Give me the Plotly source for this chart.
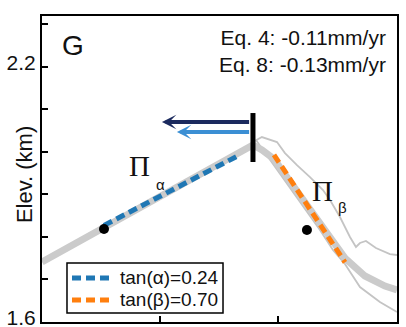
import plotly.graph_objects as go

# Elevation profile across the ridge (horizontal distance in km, elevation in km)
profile_x = [0.0, 0.0915, 0.1678, 0.244, 0.3152, 0.549, 0.803, 0.9964, 1.0727,
             1.1185, 1.1795, 1.3625, 1.5404, 1.642, 1.7438, 1.805]
profile_y = [1.7409, 1.7644, 1.7809, 1.7996, 1.8184, 1.8795, 1.9453, 1.997, 2.0158,
             2.004, 1.9829, 1.865, 1.7503, 1.7081, 1.6845, 1.6751]

# Swath envelope on the steep flank
upper_x = [1.0727, 1.118, 1.1947, 1.2354, 1.2964, 1.3625, 1.4286, 1.4643, 1.515,
           1.5658, 1.5964, 1.6167, 1.647, 1.6978, 1.769, 1.805]
upper_y = [2.0228, 2.0346, 2.0228, 1.9970, 1.9688, 1.9406, 1.9100, 1.8866, 1.8467,
           1.7997, 1.7762, 1.7856, 1.7903, 1.7738, 1.7597, 1.7574]
lower_x = [1.0879, 1.1592, 1.2456, 1.3269, 1.4133, 1.4794, 1.5404, 1.6167, 1.718, 1.805]
lower_y = [2.0275, 1.9805, 1.9265, 1.8702, 1.8161, 1.7691, 1.7362, 1.6822, 1.6470, 1.6235]

# Fitted hillslope gradients
tan_alpha = 0.24
tan_beta = 0.70
alpha_x = [0.3152, 1.0066]
alpha_anchor = (0.661, 1.910)
beta_x = [1.1795, 1.5404]
beta_anchor = (1.360, 1.8666)
slope_colors = ["#1f77b4", "#ff7f0e"]

# Hillslope midpoints
dot_x = [0.3152, 1.347]
dot_y = [1.8184, 1.8161]

# Ridge crest marker and migration arrows (Eq. 4, Eq. 8)
ridge_x = 1.0727
ridge_y = [2.091, 1.976]
arrow_tip_x = [0.610, 0.686]
arrow_y = [2.0698, 2.0463]
arrow_colors = ["#1b2a5e", "#3b8fd4"]
rates = ["Eq. 4: -0.11mm/yr", "Eq. 8: -0.13mm/yr"]

y_ticks = [1.6, 1.7, 1.8, 1.9, 2.0, 2.1, 2.2, 2.3]
y_tick_text = ["1.6", "", "", "", "", "", "2.2", ""]
x_ticks = [0.6, 1.2]

alpha_y = [alpha_anchor[1] + tan_alpha * (x - alpha_anchor[0]) for x in alpha_x]
beta_y = [beta_anchor[1] - tan_beta * (x - beta_anchor[0]) for x in beta_x]
dash = "9px,5px"

fig = go.Figure()
for xs, ys in [(upper_x, upper_y), (lower_x, lower_y)]:
    fig.add_trace(go.Scatter(x=xs, y=ys, mode="lines",
                             line=dict(color="#c4c4c4", width=1.8), hoverinfo="skip"))
fig.add_trace(go.Scatter(x=profile_x, y=profile_y, mode="lines",
                         line=dict(color="#cbcbcb", width=7), hoverinfo="skip"))
fig.add_trace(go.Scatter(x=alpha_x, y=alpha_y, mode="lines",
                         line=dict(color=slope_colors[0], width=5, dash=dash)))
fig.add_trace(go.Scatter(x=beta_x, y=beta_y, mode="lines",
                         line=dict(color=slope_colors[1], width=5, dash=dash)))
fig.add_trace(go.Scatter(x=dot_x, y=dot_y, mode="markers",
                         marker=dict(color="black", size=10)))
fig.add_trace(go.Scatter(x=[ridge_x, ridge_x], y=ridge_y, mode="lines",
                         line=dict(color="black", width=5)))

for tip, yv, col in zip(arrow_tip_x, arrow_y, arrow_colors):
    fig.add_annotation(x=tip, y=yv, ax=ridge_x - 0.012, ay=yv, xref="x", yref="y",
                       axref="x", ayref="y", text="", showarrow=True, arrowhead=3,
                       arrowsize=0.6, arrowwidth=4, arrowcolor=col, standoff=0)

font = "Liberation Sans, Arial, sans-serif"
serif = "Liberation Serif, Times New Roman, serif"


def label(x, y, text, size, family=font, **kw):
    fig.add_annotation(x=x, y=y, xref="paper", yref="paper", text=text,
                       xanchor=kw.pop("xanchor", "center"), yanchor="middle",
                       showarrow=False, font=dict(size=size, color="#111", family=family),
                       **kw)


label(0.0873, 0.905, "G", 28)
label(0.975, 0.8857, "<br>".join(rates), 21, xanchor="right", align="right")
label(-0.0507, 0.48, "Elev. (km)", 22, textangle=-90)

# Hillslope labels
label(0.276, 0.510, "Π", 29, family=serif)
label(0.334, 0.450, "α", 15)
label(0.789, 0.428, "Π", 29, family=serif)
label(0.847, 0.373, "β", 15)

# Legend box with dashed samples for the two gradients
fig.add_shape(type="rect", xref="paper", yref="paper", x0=0.0704, x1=0.5099,
              y0=0.0294, y1=0.1928, line=dict(color="black", width=1.5),
              fillcolor="white", layer="above")
for row_y, col, name in [(0.1438, slope_colors[0], "tan(α)=%.2f" % tan_alpha),
                         (0.0719, slope_colors[1], "tan(β)=%.2f" % tan_beta)]:
    fig.add_shape(type="line", xref="paper", yref="paper", x0=0.0845, x1=0.1915,
                  y0=row_y, y1=row_y, line=dict(color=col, width=5, dash=dash),
                  layer="above")
    label(0.2141, row_y, name, 19, xanchor="left")

fig.update_xaxes(range=[0, 1.805], showline=True, linecolor="black", linewidth=2,
                 mirror=True, ticks="inside", ticklen=6, tickwidth=2, tickcolor="black",
                 tickvals=x_ticks, showticklabels=False, showgrid=False, zeroline=False,
                 automargin=False)
fig.update_yaxes(range=[1.6, 2.319], showline=True, linecolor="black", linewidth=2,
                 mirror=True, ticks="inside", ticklen=6, tickwidth=2, tickcolor="black",
                 tickvals=y_ticks, ticktext=y_tick_text, showgrid=False, zeroline=False,
                 tickfont=dict(size=21, color="#111", family=font), automargin=False,
                 ticklabeloverflow="allow", ticklabelshift=-4)

fig.update_layout(
    width=406, height=327,
    margin=dict(l=42, r=9, t=16, b=5),
    paper_bgcolor="white", plot_bgcolor="white",
    showlegend=False,
)

fig.write_html("out.html")
